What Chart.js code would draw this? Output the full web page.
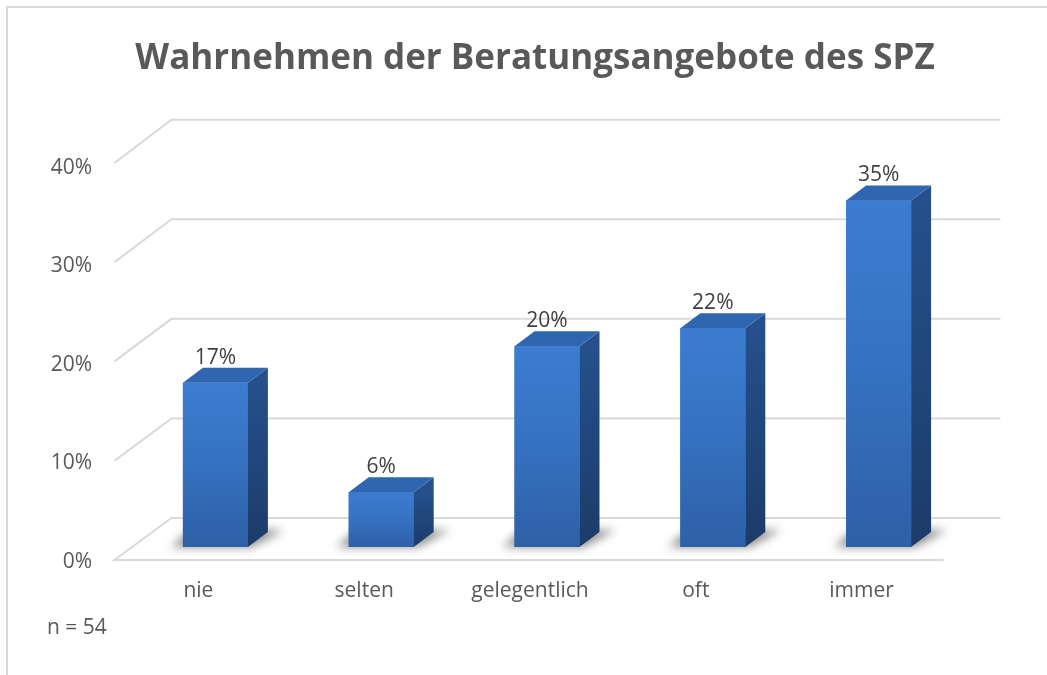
<!DOCTYPE html>
<html>
<head>
<meta charset="utf-8">
<script src="https://cdn.jsdelivr.net/npm/chart.js@4/dist/chart.umd.min.js"></script>
<style>
html, body { margin: 0; padding: 0; background: #fff; }
#aldcBarChart { width: 1047px; height: 675px; position: relative; }
</style>
</head>
<body>
<div id="aldcBarChart"><canvas id="myChart"></canvas></div>
<script>
// data
const CATEGORIES = ["nie", "selten", "gelegentlich", "oft", "immer"];
const SHARES = [0.1667, 0.0556, 0.2037, 0.2222, 0.3519];
const Y_TICKS = [0, 0.1, 0.2, 0.3, 0.4];
const TITLE = "Wahrnehmen der Beratungsangebote des SPZ";
const NOTE = "n = 54";

// styles
const COLOR_TEXT = "#595959";
const COLOR_LABEL = "#404040";
const COLOR_GRID = "#d9d9d9";
const FONT = "'Open Sans', sans-serif";
const BAR_DX = 20, BAR_DY = -15;      // depth of a bar
const WALL_DX = 57, WALL_DY = -42;    // depth of the floor
const FRONT_DX = -18, FRONT_DY = 13;  // front edge of floor relative to bar front

const pct = v => Math.round(v * 100) + "%";

function poly(ctx, pts) {
  ctx.beginPath();
  ctx.moveTo(pts[0][0], pts[0][1]);
  for (let i = 1; i < pts.length; i++) ctx.lineTo(pts[i][0], pts[i][1]);
  ctx.closePath();
}

// perspective grid + bar shadows under the bars, 3d faces and labels above
const floorPlugin = {
  id: "floor",
  beforeDatasetsDraw(chart) {
    const ctx = chart.ctx, xs = chart.scales.x, ys = chart.scales.y;
    const base = ys.getPixelForValue(0);
    const fl = xs.left + FRONT_DX, fr = xs.right + FRONT_DX;
    ctx.save();
    ctx.strokeStyle = COLOR_GRID;
    ctx.lineWidth = 2;
    Y_TICKS.forEach(v => {
      const p = ys.getPixelForValue(v) - base;
      const fy = base + FRONT_DY + p * 1.008;
      const by = base + FRONT_DY + WALL_DY + p * 1.011;
      ctx.beginPath();
      if (v === 0) { ctx.moveTo(fr, fy); ctx.lineTo(fl, fy); } else ctx.moveTo(fl, fy);
      ctx.lineTo(fl + WALL_DX, by);
      ctx.lineTo(fr + WALL_DX, by);
      ctx.stroke();
    });
    // soft shadows at the foot of each bar
    ctx.filter = "blur(5px)";
    ctx.fillStyle = "rgba(0,0,0,0.45)";
    chart.getDatasetMeta(0).data.forEach(el => {
      const L = el.x - el.width / 2, R = el.x + el.width / 2, B = el.base;
      poly(ctx, [[L - 12, B], [R + 4, B], [R + BAR_DX + 16, B + BAR_DY - 2], [L + BAR_DX - 12, B + BAR_DY - 2]]);
      ctx.fill();
    });
    ctx.restore();
  },
  afterDatasetsDraw(chart) {
    const ctx = chart.ctx;
    const meta = chart.getDatasetMeta(0);
    ctx.save();
    meta.data.forEach((el, i) => {
      const L = el.x - el.width / 2, R = el.x + el.width / 2, T = el.y, B = el.base;
      // front face
      let g = ctx.createLinearGradient(0, T, 0, B);
      g.addColorStop(0, "#3c7dd1");
      g.addColorStop(0.5, "#3571c0");
      g.addColorStop(1, "#2e60a6");
      ctx.fillStyle = g;
      ctx.fillRect(L, T, R - L, B - T);
      // side face
      g = ctx.createLinearGradient(0, T, 0, B);
      g.addColorStop(0, "#25508c");
      g.addColorStop(1, "#1c3c69");
      ctx.fillStyle = g;
      poly(ctx, [[R, T], [R + BAR_DX, T + BAR_DY], [R + BAR_DX, B + BAR_DY], [R, B]]);
      ctx.fill();
      // top face
      ctx.fillStyle = "#2f66b0";
      poly(ctx, [[L, T], [L + BAR_DX, T + BAR_DY], [R + BAR_DX, T + BAR_DY], [R, T]]);
      ctx.fill();
      // value label
      ctx.fillStyle = COLOR_LABEL;
      ctx.font = "21px " + FONT;
      ctx.textAlign = "center";
      ctx.textBaseline = "middle";
      ctx.fillText(pct(SHARES[i]), el.x, T + BAR_DY - 10);
    });
    // title, note and frame
    ctx.fillStyle = COLOR_TEXT;
    ctx.font = "bold 35px " + FONT;
    ctx.textAlign = "center";
    ctx.textBaseline = "alphabetic";
    ctx.fillText(TITLE, 535, 69);
    ctx.font = "21px " + FONT;
    ctx.textAlign = "left";
    ctx.textBaseline = "middle";
    ctx.fillText(NOTE, 47, 628);
    ctx.strokeStyle = COLOR_GRID;
    ctx.lineWidth = 2;
    ctx.strokeRect(7, 7, 1100, 700);
    ctx.restore();
  }
};

const ctx = document.getElementById("myChart").getContext("2d");
new Chart(ctx, {
  type: "bar",
  data: {
    labels: CATEGORIES,
    datasets: [{
      label: "Anteil",
      data: SHARES,
      backgroundColor: "#3571c0",
      barPercentage: 0.392,
      categoryPercentage: 1
    }]
  },
  options: {
    responsive: true,
    maintainAspectRatio: false,
    animation: false,
    layout: { padding: { left: 0, right: 85.5, top: 153, bottom: 0 } },
    scales: {
      x: {
        grid: { display: false, drawTicks: false },
        border: { display: false },
        ticks: { color: COLOR_TEXT, font: { family: FONT, size: 21 }, padding: 31, labelOffset: -17 },
        afterFit: s => { s.height = 128; }
      },
      y: {
        min: 0,
        max: 0.4,
        grid: { display: false, drawTicks: false },
        border: { display: false },
        ticks: {
          stepSize: 0.1,
          color: COLOR_TEXT,
          font: { family: FONT, size: 21 },
          padding: 40.5,
          labelOffset: 15,
          callback: v => pct(v)
        },
        afterFit: s => { s.width = 132.5; }
      }
    },
    plugins: {
      legend: { display: false },
      tooltip: { enabled: false },
      title: { display: false }
    }
  },
  plugins: [floorPlugin]
});
</script>
</body>
</html>
